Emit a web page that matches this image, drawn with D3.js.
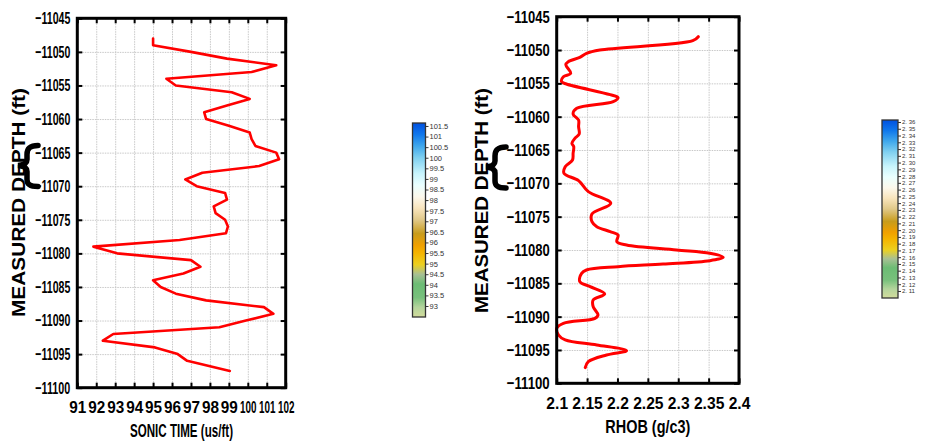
<!DOCTYPE html>
<html><head><meta charset="utf-8">
<script src="https://cdn.jsdelivr.net/npm/d3@7"></script>
<style>
html,body{margin:0;padding:0;background:#fff;}
svg{display:block;font-family:"Liberation Sans",Arial,sans-serif;}
</style></head><body>
<svg id="c" width="926" height="441"></svg>
<script>
// ---------- data ----------
const sonicDepth = [-11048,-11049,-11050,-11051,-11052,-11053,-11054,-11055,-11056,-11057,-11058,-11059,-11060,-11061,-11062,-11063,-11064,-11065,-11066,-11067,-11068,-11069,-11070,-11071,-11072,-11073,-11074,-11075,-11076,-11077,-11078,-11079,-11080,-11081,-11082,-11083,-11084,-11085,-11086,-11087,-11088,-11089,-11090,-11091,-11092,-11093,-11094,-11095,-11096,-11097.5];
const sonicValue = [95.0,95.0,97.0,98.9,101.5,100.2,95.7,96.2,99.15,100.1,98.9,97.7,97.8,99.0,100.1,100.2,100.4,101.5,101.65,100.6,97.6,96.7,97.3,98.8,98.9,98.2,98.3,98.8,98.95,98.85,96.4,91.85,93.1,97.0,97.5,96.6,95.0,95.4,96.2,97.8,100.85,101.35,99.9,98.5,92.9,92.35,95.1,96.3,96.8,99.05];

const rhobDepth = [-11048.0,-11048.6,-11050.0,-11050.5,-11051.1,-11051.75,-11052.2,-11053.5,-11054.0,-11054.75,-11055.1,-11056.7,-11057.15,-11057.75,-11058.75,-11059.6,-11060.5,-11061.5,-11062.6,-11063.25,-11064.0,-11064.5,-11065.5,-11066.5,-11067.5,-11068.5,-11069.6,-11071.25,-11073.0,-11074.6,-11075.75,-11076.5,-11077.25,-11077.75,-11078.75,-11079.25,-11080.0,-11080.5,-11081.1,-11081.6,-11082.1,-11082.5,-11083.0,-11083.5,-11084.75,-11085.5,-11086.6,-11087.5,-11088.5,-11089.75,-11090.25,-11091.0,-11091.75,-11092.75,-11093.5,-11094.25,-11095.1,-11095.75,-11096.75,-11097.65];
const rhobValue = [2.333,2.324,2.171,2.149,2.138,2.119,2.115,2.123,2.111,2.108,2.116,2.188,2.201,2.193,2.133,2.127,2.136,2.136,2.137,2.130,2.125,2.128,2.127,2.126,2.114,2.112,2.136,2.152,2.189,2.158,2.158,2.166,2.188,2.201,2.199,2.215,2.297,2.352,2.374,2.352,2.275,2.201,2.149,2.141,2.138,2.155,2.179,2.160,2.160,2.168,2.163,2.111,2.100,2.103,2.114,2.166,2.215,2.182,2.152,2.147];

const depthTicks = [-11045,-11050,-11055,-11060,-11065,-11070,-11075,-11080,-11085,-11090,-11095,-11100];
const sonicTicks = [91,92,93,94,95,96,97,98,99,100,101,102];
const rhobTicks = [2.1,2.15,2.2,2.25,2.3,2.35,2.4];
const sonicBarTicks = [101.5,101,100.5,100,99.5,99,98.5,98,97.5,97,96.5,96,95.5,95,94.5,94,93.5,93];
const rhobBarTicks = [2.36,2.35,2.34,2.33,2.32,2.31,2.3,2.29,2.28,2.27,2.26,2.25,2.24,2.23,2.22,2.21,2.2,2.19,2.18,2.17,2.16,2.15,2.14,2.13,2.12,2.11];

const yTitle = "MEASURED DEPTH (ft)";
const sonicTitle = "SONIC TIME (us/ft)";
const rhobTitle = "RHOB (g/c3)";

// colour ramp stops (fraction from bottom of colour bar)
const rampOffsets = [0,0.05,0.10,0.17,0.22,0.27,0.33,0.37,0.43,0.50,0.56,0.62,0.68,0.74,0.82,0.88,0.94,1];
const rampColors = ["#d2dc9c","#b4d49c","#78c07c","#6cbc74","#a8c094","#ecd020","#f4b400","#f0a000","#c89c1c","#e0c888","#f8e4bc","#fcf8ec","#eaffff","#c8f4fc","#80d0f0","#40a8ec","#1078ec","#0050e0"];

// ---------- drawing ----------
const svg = d3.select("#c");
const defs = svg.append("defs");
const grad = defs.append("linearGradient").attr("id","ramp")
  .attr("x1",0).attr("y1",1).attr("x2",0).attr("y2",0);
rampOffsets.forEach((o,i)=>grad.append("stop").attr("offset",o).attr("stop-color",rampColors[i]));

function panel(cfg){
  const x = d3.scaleLinear().domain(cfg.xDomain).range([cfg.x0,cfg.x1]);
  const y = d3.scaleLinear().domain([-11045,-11100]).range([cfg.y0,cfg.y1]);
  const g = svg.append("g");
  const W = cfg.x1-cfg.x0, H = cfg.y1-cfg.y0;

  // grid
  const gx = g.append("g").attr("transform",`translate(0,${cfg.y1})`)
    .call(d3.axisBottom(x).tickValues(cfg.xTicks).tickSize(-H).tickFormat(""));
  const gy = g.append("g").attr("transform",`translate(${cfg.x0},0)`)
    .call(d3.axisLeft(y).tickValues(depthTicks).tickSize(-W).tickFormat(""));
  [gx,gy].forEach(a=>{a.select(".domain").remove();
    a.selectAll("line").attr("stroke","#c8c8c8").attr("stroke-width",1).attr("stroke-dasharray","1.5,1");});

  // line
  const pts = cfg.depth.map((d,i)=>[cfg.value[i],d]);
  g.append("path").datum(pts)
    .attr("fill","none").attr("stroke","#ff0000").attr("stroke-width",cfg.lw)
    .attr("stroke-linejoin","round").attr("stroke-linecap","round")
    .attr("d",d3.line().x(p=>x(p[0])).y(p=>y(p[1])).curve(cfg.curve));

  // axes with inward ticks
  const ax = g.append("g").attr("transform",`translate(${cfg.x0},0)`)
    .call(d3.axisLeft(y).tickValues(depthTicks).tickSize(-5).tickPadding(7).tickFormat(d3.format("d")));
  ax.selectAll("text").attr("font-size",17).attr("font-weight","bold").attr("fill","#000")
    .attr("textLength",cfg.yLabW).attr("lengthAdjust","spacingAndGlyphs");
  const axR = g.append("g").attr("transform",`translate(${cfg.x1},0)`)
    .call(d3.axisRight(y).tickValues(depthTicks).tickSize(-5).tickFormat(""));
  const axB = g.append("g").attr("transform",`translate(0,${cfg.y1})`)
    .call(d3.axisBottom(x).tickValues(cfg.xTicks).tickSize(-5).tickPadding(0).tickFormat(cfg.xFmt));
  axB.selectAll("text").attr("font-size",17).attr("font-weight","bold").attr("fill","#000")
    .attr("dy",null).attr("y",0)
    .attr("transform",d=>`translate(0,${cfg.xLabDy}) scale(${cfg.xLabScale(cfg.xFmt(d))},1)`);
  const axT = g.append("g").attr("transform",`translate(0,${cfg.y0})`)
    .call(d3.axisTop(x).tickValues(cfg.xTicks).tickSize(-5).tickFormat(""));
  [ax,axR,axB,axT].forEach(a=>{a.select(".domain").remove();
    a.selectAll("line").attr("stroke","#000").attr("stroke-width",2);});

  // frame
  g.append("rect").attr("x",cfg.x0).attr("y",cfg.y0).attr("width",W).attr("height",H)
    .attr("fill","none").attr("stroke","#000").attr("stroke-width",3);

  // titles
  g.append("text").attr("x",(cfg.x0+cfg.x1)/2).attr("y",cfg.xTitleY)
    .attr("text-anchor","middle").attr("font-size",18).attr("font-weight","bold")
    .attr("textLength",cfg.xTitleW).attr("lengthAdjust","spacingAndGlyphs").text(cfg.xTitle);
  g.append("text").attr("transform",`translate(${cfg.yTitleX},${cfg.yTitleCY}) rotate(-90)`)
    .attr("text-anchor","middle").attr("font-size",18).attr("font-weight","bold")
    .attr("textLength",cfg.yTitleW).attr("lengthAdjust","spacingAndGlyphs").text(yTitle);

  // brace
  const bx = cfg.braceX, by = cfg.braceY;
  g.append("path")
    .attr("d",`M${bx+20},${by} C${bx+12},${by} ${bx+9},${by+3} ${bx+9},${by+9} L${bx+9},${by+14} C${bx+9},${by+17} ${bx+6},${by+19.5} ${bx},${by+20} C${bx+6},${by+20.5} ${bx+9},${by+23} ${bx+9},${by+26} L${bx+9},${by+34} C${bx+9},${by+39} ${bx+12},${by+41} ${bx+20},${by+41}`)
    .attr("fill","none").attr("stroke","#000").attr("stroke-width",5.5).attr("stroke-linecap","round");
}

panel({xDomain:[91,102], x0:77.3, x1:285.7, y0:18.3, y1:387.7,
  xTicks:sonicTicks, depth:sonicDepth, value:sonicValue, lw:2.6, curve:d3.curveLinear,
  yLabW:35, xFmt:d3.format("d"), xLabScale:s=>s.length>2?0.58:0.9, xLabDy:25,
  xTitle:sonicTitle, xTitleY:437, xTitleW:103, yTitleX:25, yTitleCY:202.5, yTitleW:229,
  braceX:18, braceY:145.5});

panel({xDomain:[2.1,2.4], x0:556.7, x1:739, y0:16.7, y1:383.3,
  xTicks:rhobTicks, depth:rhobDepth, value:rhobValue, lw:3, curve:d3.curveCatmullRom.alpha(0.5),
  yLabW:43, xFmt:d=>String(d), xLabScale:s=>0.92, xLabDy:26,
  xTitle:rhobTitle, xTitleY:433, xTitleW:85, yTitleX:488, yTitleCY:200.5, yTitleW:225,
  braceX:486, braceY:147});

// colour bars
function colorBar(cfg){
  const s = d3.scaleLinear().domain(cfg.domain).range([cfg.y1,cfg.y0]);
  const g = svg.append("g");
  g.append("rect").attr("x",cfg.x).attr("y",cfg.y0).attr("width",cfg.w).attr("height",cfg.y1-cfg.y0)
    .attr("fill","url(#ramp)").attr("stroke","#333").attr("stroke-width",1.3);
  const a = g.append("g").attr("transform",`translate(${cfg.x+cfg.w},0)`)
    .call(d3.axisRight(s).tickValues(cfg.ticks).tickSize(3).tickPadding(1).tickFormat(cfg.fmt));
  a.select(".domain").remove();
  a.selectAll("line").attr("stroke","#333").attr("stroke-width",1);
  a.selectAll("text").attr("font-size",cfg.fs).attr("fill","#333").attr("font-family","Arial, 'Liberation Sans', sans-serif");
}
colorBar({domain:[92.48,101.64], x:412.5, w:13, y0:123, y1:317, ticks:sonicBarTicks, fmt:d=>String(d), fs:7.5});
colorBar({domain:[2.0996,2.363], x:882, w:16, y0:120, y1:298, ticks:rhobBarTicks, fmt:d=>d.toFixed(2).replace(".",". "), fs:6});
</script>
</body></html>
